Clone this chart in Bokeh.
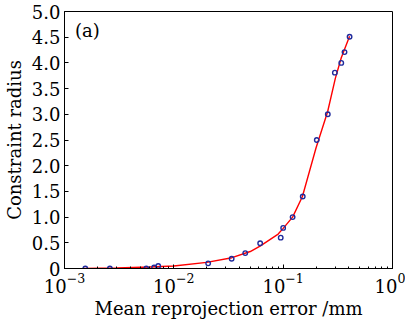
from bokeh.plotting import figure
from bokeh.models import FixedTicker, Label, Range1d
from bokeh.embed import file_html
from bokeh.resources import INLINE

# measured points
err_mm = [0.00155, 0.0026, 0.0056, 0.0066, 0.0072, 0.0206, 0.0338, 0.045, 0.0616,
          0.095, 0.1, 0.122, 0.151, 0.203, 0.256, 0.297, 0.34, 0.364, 0.405]
radius = [0.0, 0.0, 0.0, 0.02, 0.05, 0.1, 0.19, 0.3, 0.49,
          0.6, 0.79, 1.0, 1.4, 2.5, 3.0, 3.81, 4.0, 4.21, 4.51]

# fitted curve
fit_x = [0.0015, 0.003, 0.006, 0.01, 0.02, 0.034, 0.05, 0.062, 0.09, 0.1,
         0.122, 0.15, 0.2, 0.255, 0.3, 0.34, 0.405]
fit_y = [0.0, 0.01, 0.03, 0.05, 0.12, 0.21, 0.33, 0.44, 0.67, 0.78,
         1.0, 1.4, 2.35, 3.05, 3.7, 4.1, 4.52]

y_ticks = [0, 0.5, 1.0, 1.5, 2.0, 2.5, 3.0, 3.5, 4.0, 4.5, 5.0]
y_tick_labels = ["0", "0.5", "1.0", "1.5", "2.0", "2.5", "3.0", "3.5", "4.0", "4.5", "5.0"]

FONT = "DejaVu Serif"

p = figure(width=405, height=323, output_backend="svg", toolbar_location=None,
           x_axis_type="log", x_range=Range1d(1e-3, 1), y_range=Range1d(0, 5),
           min_border_left=63, min_border_right=13, min_border_top=11, min_border_bottom=55)
p.grid.visible = False
p.outline_line_color = "black"
p.outline_line_width = 1

p.line(fit_x, fit_y, line_color="red", line_width=1.4)
p.scatter(err_mm, radius, marker="circle", size=4.5, fill_color=None,
          line_color="#1f2a9c", line_width=1.4)

p.xaxis.axis_label = "Mean reprojection error /mm"
p.yaxis.axis_label = "Constraint radius"
for ax in (p.xaxis[0], p.yaxis[0]):
    ax.axis_label_text_font = FONT
    ax.axis_label_text_font_style = "normal"
    ax.axis_label_text_font_size = "18px"
    ax.major_label_text_font = FONT
    ax.major_label_text_font_size = "18px"
    ax.major_label_text_color = "black"
    ax.axis_label_text_color = "black"
    ax.major_tick_in = 4
    ax.major_tick_out = 0
    ax.minor_tick_in = 2
    ax.minor_tick_out = 0
    ax.axis_line_color = "black"

p.yaxis.ticker = FixedTicker(ticks=y_ticks)
p.yaxis.major_label_overrides = {t: l for t, l in zip(y_ticks, y_tick_labels)}
p.yaxis.axis_label_standoff = 4
p.yaxis.major_label_standoff = 4
p.xaxis.axis_label_standoff = 2
p.xaxis.major_label_standoff = 4

p.add_layout(Label(x=1.25e-3, y=4.63, text="(a)", text_font=FONT, text_font_size="18px",
                   text_baseline="middle", text_color="black"))

open("out.html", "w").write(file_html(p, INLINE))
